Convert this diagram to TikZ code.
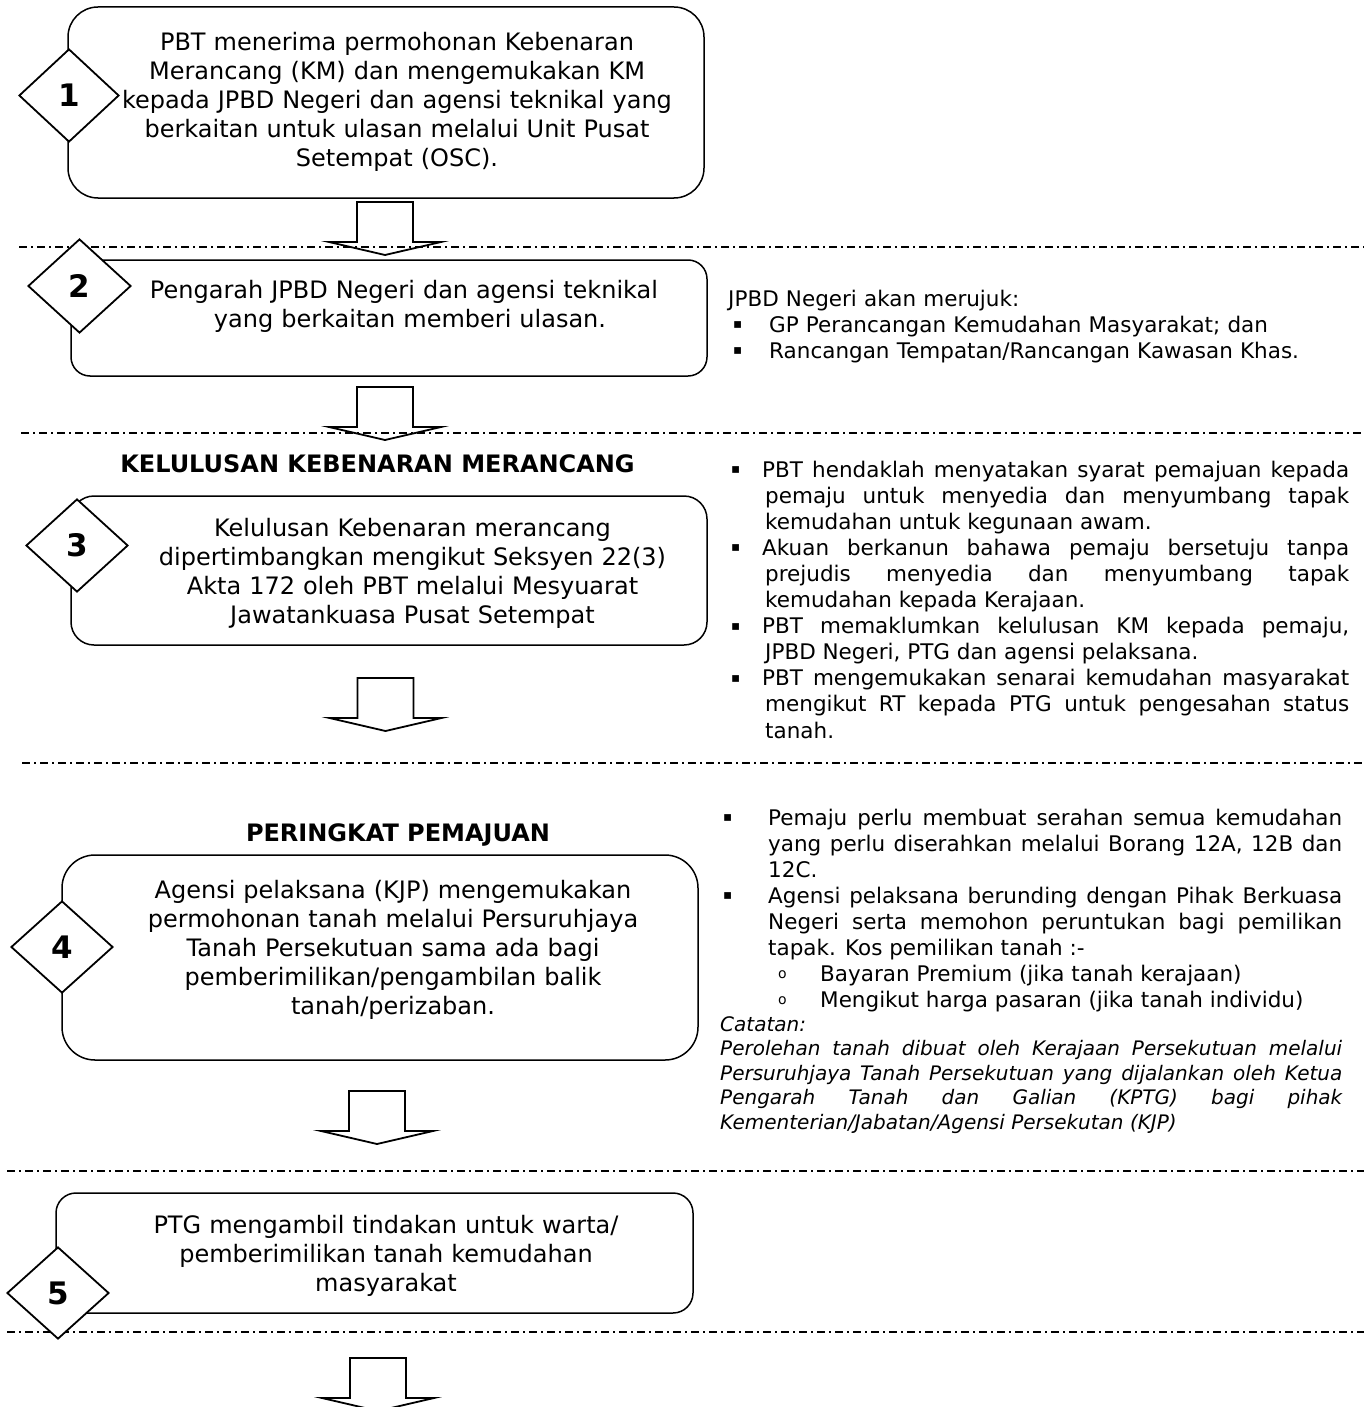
\documentclass[tikz,border=0pt]{standalone}
\usepackage{fontspec}
\setmainfont{DejaVu Sans}[ItalicFont={DejaVu Sans Oblique},BoldFont={DejaVu Sans Bold},BoldItalicFont={DejaVu Sans Bold Oblique}]
\usetikzlibrary{shapes.geometric}
\newcommand\boxfont{\fontsize{24}{29}\selectfont}
\newcommand\sidefont{\fontsize{21.5}{26.1}\selectfont}
\newcommand\notefont{\fontsize{20}{24.5}\selectfont\itshape}
\newcommand\numfont{\fontsize{31}{36}\selectfont\bfseries}
\newcommand\headfont{\fontsize{24}{29}\selectfont\bfseries}
\newcommand\sqbul[1]{\makebox[#1][l]{\raisebox{3.5pt}{\fontsize{13.5}{13.5}\selectfont ▪}}}
\newcommand\circbul{\makebox[42pt][l]{\raisebox{3.5pt}{\fontsize{14}{14}\selectfont o}}}
\tikzset{
  pics/blockarrow/.style={code={
    \draw[line width=1.8pt,line join=miter] (-28,0) -- (28,0) -- (28,40) -- (56,40) -- (0,53) -- (-56,40) -- (-28,40) -- cycle;}},
  sepline/.style={line width=1.3pt,dash pattern=on 8pt off 4pt on 2pt off 4pt},
  stepbox/.style={draw,line width=1.5pt,inner sep=0pt,fill=none},
  numdia/.style={diamond,draw,fill=white,line width=1.8pt,inner sep=0pt,font=\numfont},
  boxtext/.style={anchor=base,inner sep=0pt,text width=620pt,align=center,font=\boxfont},
  sidetext/.style={anchor=base west,inner sep=0pt,font=\sidefont},
  headtext/.style={anchor=base,inner sep=0pt,font=\headfont}
}
\begin{document}
\begin{tikzpicture}[x=1pt,y=-1pt]
\useasboundingbox (0,0) rectangle (1364,1407);
\clip (0,0) rectangle (1364,1407);
% separators
\draw[sepline] (19,247) -- (1364,247);
\draw[sepline] (21,433) -- (1364,433);
\draw[sepline] (22,763) -- (1364,763);
\draw[sepline] (7,1171) -- (1364,1171);
\draw[sepline] (7,1332) -- (1364,1332);
% boxes
\node[stepbox,rounded corners=30pt,minimum width=636pt,minimum height=191pt] (b1) at (386,102.5) {};
\node[stepbox,rounded corners=19pt,minimum width=636pt,minimum height=116pt] (b2) at (389,318) {};
\node[stepbox,rounded corners=23pt,minimum width=636pt,minimum height=149pt] (b3) at (389,570.5) {};
\node[stepbox,rounded corners=33pt,minimum width=636pt,minimum height=205pt] (b4) at (380,957.5) {};
\node[stepbox,rounded corners=20pt,minimum width=637pt,minimum height=120pt] (b5) at (374.5,1253) {};
% block arrows
\coordinate (a1) at (385,202);
\coordinate (a2) at (385,387);
\coordinate (a3) at (385.5,678);
\coordinate (a4) at (377,1091);
\coordinate (a5) at (378,1358);
\pic at (a1) {blockarrow};
\pic at (a2) {blockarrow};
\pic at (a3) {blockarrow};
\pic at (a4) {blockarrow};
\pic at (a5) {blockarrow};
% diamonds
\node[numdia,minimum width=100pt,minimum height=93pt] (d1) at (69,95.5) {1};
\node[numdia,minimum width=103pt,minimum height=94pt] (d2) at (79.5,286) {2};
\node[numdia,minimum width=102pt,minimum height=93pt] (d3) at (77,545.5) {3};
\node[numdia,minimum width=102pt,minimum height=92pt] (d4) at (62,947) {4};
\node[numdia,minimum width=102pt,minimum height=92pt] (d5) at (58,1293) {5};
% box texts
\node[boxtext] (t1) at (397,50.5) {PBT menerima permohonan Kebenaran\\Merancang (KM) dan mengemukakan KM\\kepada JPBD Negeri dan agensi teknikal yang\\berkaitan untuk ulasan melalui Unit Pusat\\Setempat (OSC).};
\node[boxtext] (t2) at (404,298.5) {Pengarah JPBD Negeri dan agensi teknikal\hspace*{12pt}\\\hspace*{12pt}yang berkaitan memberi ulasan.};
\node[boxtext] (t3) at (412.5,536.5) {Kelulusan Kebenaran merancang\\dipertimbangkan mengikut Seksyen 22(3)\\Akta 172 oleh PBT melalui Mesyuarat\\Jawatankuasa Pusat Setempat};
\node[boxtext] (t4) at (393,898.5) {Agensi pelaksana (KJP) mengemukakan\\permohonan tanah melalui Persuruhjaya\\Tanah Persekutuan sama ada bagi\\pemberimilikan/pengambilan balik\\tanah/perizaban.};
\node[boxtext] (t5) at (386,1233.5) {PTG mengambil tindakan untuk warta/\\pemberimilikan tanah kemudahan\\masyarakat};
% headings
\node[headtext] (h3) at (377.5,472) {KELULUSAN KEBENARAN MERANCANG};
\node[headtext] (h4) at (398,841) {PERINGKAT PEMAJUAN};
% side texts
\node[sidetext,text width=620pt,align=left] (r2) at (728,306) {JPBD Negeri akan merujuk:\\\hspace*{5pt}\sqbul{36pt}GP Perancangan Kemudahan Masyarakat; dan\\\hspace*{5pt}\sqbul{36pt}Rancangan Tempatan/Rancangan Kawasan Khas.};
\node[sidetext,text width=618pt,align=justify] (r3) at (731,477) {%
\hangindent=34pt\hangafter=1\sqbul{31pt}PBT hendaklah menyatakan syarat pemajuan kepada\linebreak pemaju untuk menyedia dan menyumbang tapak\linebreak kemudahan untuk kegunaan awam.\par
\hangindent=34pt\hangafter=1\sqbul{31pt}Akuan berkanun bahawa pemaju bersetuju tanpa\linebreak prejudis menyedia dan menyumbang tapak\linebreak kemudahan kepada Kerajaan.\par
\hangindent=34pt\hangafter=1\sqbul{31pt}PBT memaklumkan kelulusan KM kepada pemaju,\linebreak JPBD Negeri, PTG dan agensi pelaksana.\par
\hangindent=34pt\hangafter=1\sqbul{31pt}PBT mengemukakan senarai kemudahan masyarakat\linebreak mengikut RT kepada PTG untuk pengesahan status\linebreak tanah.\par};
\node[sidetext,text width=619pt,align=justify] (r4) at (723,825) {%
\hangindent=45pt\hangafter=1\sqbul{45pt}Pemaju perlu membuat serahan semua kemudahan\linebreak yang perlu diserahkan melalui Borang 12A, 12B dan\linebreak 12C.\par
\hangindent=45pt\hangafter=1\sqbul{45pt}Agensi pelaksana berunding dengan Pihak Berkuasa\linebreak Negeri serta memohon peruntukan bagi pemilikan\linebreak tapak. Kos pemilikan tanah :-\par
\hspace*{55pt}\circbul Bayaran Premium (jika tanah kerajaan)\par
\hspace*{55pt}\circbul Mengikut harga pasaran (jika tanah individu)\par};
\node[sidetext,font=\notefont,text width=622pt,align=justify] (n4) at (720,1031) {%
Catatan:\par
Perolehan tanah dibuat oleh Kerajaan Persekutuan melalui\linebreak Persuruhjaya Tanah Persekutuan yang dijalankan oleh Ketua\linebreak Pengarah Tanah dan Galian (KPTG) bagi pihak\linebreak Kementerian/Jabatan/Agensi Persekutan (KJP)\par};
\end{tikzpicture}
\end{document}
